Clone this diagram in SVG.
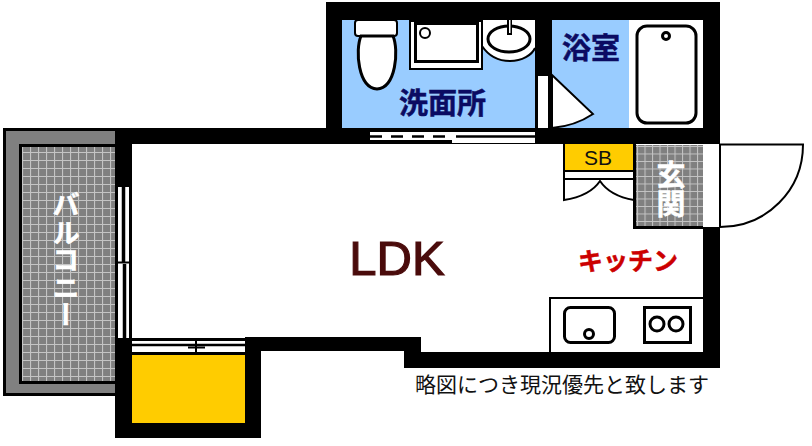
<svg xmlns="http://www.w3.org/2000/svg" width="812" height="446" viewBox="0 0 812 446">
<style>
.w{fill:#000}
.o{fill:#fff;stroke:#000;stroke-width:2}
.t{fill:#fff;stroke:#000;stroke-width:3}
.l{fill:none;stroke:#000;stroke-width:2}
.j{font-family:"Noto Sans CJK JP","Noto Sans",sans-serif}
.nv{fill:#0b0b62;font-size:29px;font-weight:700;stroke:#0b0b62;stroke-width:.5}
.wt{fill:#fff;font-weight:700;writing-mode:vertical-rl;text-anchor:middle;stroke:#fff;stroke-width:.5}
</style>
<defs>
<pattern id="grid" width="8" height="8" patternUnits="userSpaceOnUse" x="22" y="144">
<rect width="8" height="8" fill="#808080"/>
<path d="M0 .5H8M.5 0V8" stroke="#c4c4c4" stroke-width="1.2"/>
</pattern>
<pattern id="grid2" width="7.5" height="7.5" patternUnits="userSpaceOnUse" x="637" y="146">
<rect width="7.5" height="7.5" fill="#808080"/>
<path d="M0 .5H7.5M.5 0V7.5" stroke="#c4c4c4" stroke-width="1.1"/>
</pattern>
</defs>
<rect width="812" height="446" fill="#fff"/>
<g id="balcony">
<rect x="4.500" y="129.500" width="112" height="265" fill="#808080" stroke="#000" stroke-width="3"/>
<rect x="20.500" y="145.500" width="96" height="237" fill="url(#grid)" stroke="#000" stroke-width="3"/>
<text class="j wt" x="66" y="260" font-size="27.500">バルコニー</text>
</g>
<g id="walls">
<path class="w" d="M326 2H720V144H703V20H342V128H326Z"/>
<path class="w" d="M115 128H720V144H115Z"/>
<rect class="w" x="535" y="20" width="17" height="56"/>
<rect class="w" x="535" y="76" width="3" height="53"/>
<rect class="w" x="548" y="76" width="4" height="53"/>
<path class="w" d="M115 128H132V423H245V337H421V352H703V227H720V368H404V351H261V438H115Z"/>
<rect class="w" x="132" y="338" width="114" height="17"/>
</g>
<g id="bathroom">
<rect x="342" y="20" width="193" height="108" fill="#99ccff"/>
<rect x="552" y="20" width="77" height="108" fill="#99ccff"/>
<rect x="631" y="20" width="72" height="108" fill="#fff"/>
<rect x="538" y="76" width="10" height="52" fill="#fff"/>
<path d="M552 75L593 114Q575 126 552 128Z" fill="#fff" stroke="#000" stroke-width="2"/>
<rect class="t" x="637" y="26" width="59" height="97" rx="10"/>
<circle class="t" cx="666" cy="36" r="3.500"/>
<text class="j nv" x="562" y="59">浴室</text>
</g>
<g id="washroom">
<rect class="o" x="355" y="20" width="42" height="16" rx="3"/>
<path class="t" d="M361 36C355 50 358 88 377 89C396 88 399 50 393 36Z"/>
<path d="M482 46C490 58 500 61 510 61C522 61 532 55 535 48V20H482Z" fill="#fff"/>
<path class="l" d="M482 46C490 58 500 61 510 61C522 61 532 55 535 48"/>
<ellipse class="t" cx="509" cy="39" rx="21" ry="13"/>
<rect x="507" y="20" width="5" height="15" fill="#000"/>
<rect x="509" y="20" width="1.500" height="13" fill="#fff"/>
<rect class="o" x="410" y="21" width="72" height="48"/>
<rect class="t" x="415.500" y="23.500" width="62" height="38"/>
<circle class="o" cx="425" cy="33" r="5"/>
<text class="j nv" x="399" y="114">洗面所</text>
</g>
<g id="north-window">
<path d="M370 132H535V143H452V140H370Z" fill="#fff"/>
<path d="M370 136.500H445" stroke="#000" stroke-width="2.500" stroke-dasharray="12 9"/>
<path d="M456 136.500H535" stroke="#000" stroke-width="2.500"/>
</g>
<g id="storage">
<rect x="565" y="144" width="68" height="26" fill="#ffcc00"/>
<path class="l" d="M565 171H634M565 179H634"/>
<path class="l" d="M564 144V200Q590 196 600 181Q610 196 634 200"/>
<text x="598" y="165" text-anchor="middle" font-family="Liberation Sans,Arial,sans-serif" font-size="21" fill="#111">SB</text>
</g>
<g id="entrance">
<rect x="634.500" y="145" width="68.500" height="82.500" fill="url(#grid2)"/>
<path d="M634.500 144V227.500H703" fill="none" stroke="#000" stroke-width="3"/>
<path class="l" d="M720 144V227"/>
<path class="l" d="M720 144.500H803C803 190 767 227 720 227"/>
<text class="j wt" x="671" y="189" font-size="29">玄関</text>
</g>
<g id="west-window">
<rect x="118" y="187" width="11" height="151" fill="#fff"/>
<path d="M123.500 187V262M124.500 264V338" fill="none" stroke="#000" stroke-width="3.500"/>
<path class="l" d="M118 262.500H129"/>
</g>
<g id="south-window">
<rect x="132" y="341" width="113" height="11" fill="#fff"/>
<path d="M132 345H245" stroke="#000" stroke-width="2.500"/>
<path d="M188 347.500H205M196 341V352" stroke="#000" stroke-width="2" fill="none"/>
</g>
<g id="balcony-yellow">
<rect x="132" y="355" width="113" height="68" fill="#ffcc00"/>
</g>
<g id="kitchen">
<path class="l" d="M550 352V298H703"/>
<rect class="t" x="564.500" y="307.500" width="50" height="35" rx="6"/>
<circle class="t" cx="589" cy="334" r="4.500"/>
<rect x="644.500" y="307.500" width="46" height="35" fill="#fff" stroke="#000" stroke-width="3"/>
<circle class="t" cx="657" cy="324" r="7"/>
<circle class="t" cx="676" cy="324" r="7"/>
<text class="j" x="578" y="270" font-size="25" font-weight="700" fill="#cc0000" stroke="#cc0000" stroke-width=".5">キッチン</text>
</g>
<g id="ldk">
<text x="397" y="274.500" text-anchor="middle" font-family="Liberation Sans,Arial,sans-serif" font-size="49" fill="#4a0b0b" stroke="#4a0b0b" stroke-width="1.200">LDK</text>
</g>
<g id="note">
<text class="j" x="415" y="392" font-size="21" fill="#111">略図につき現況優先と致します</text>
</g>
<g id="connectors"/>
</svg>
